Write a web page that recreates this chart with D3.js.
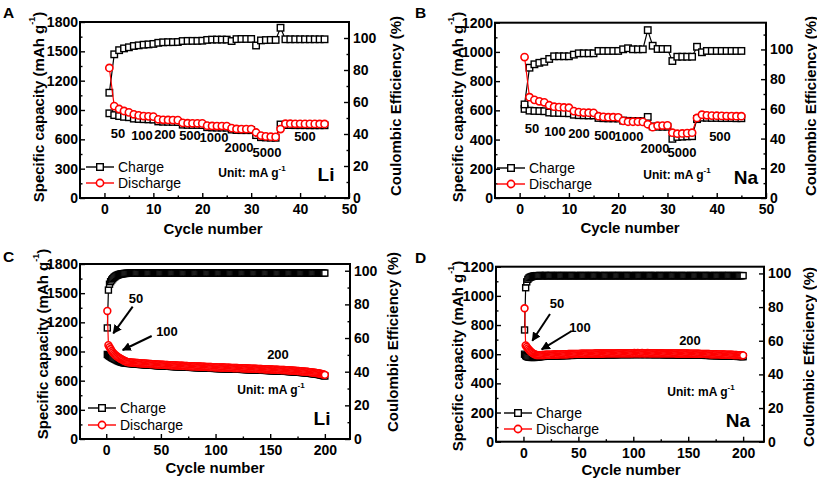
<!DOCTYPE html>
<html><head><meta charset="utf-8">
<script src="https://cdn.jsdelivr.net/npm/d3@7"></script>
<style>body{margin:0;background:#fff}svg{display:block}text{font-family:"Liberation Sans",Arial,sans-serif}</style>
</head><body><svg id="c" width="817" height="479"></svg>
<script>
// ---------- DATA ----------
// Panel A: Li, rate test (cycles 1..45)
const liRateCharge = [866,848,838,830,826,812,808,806,804,802,
783,780,779,778,777,750,748,747,747,746,
724,721,720,720,719,700,695,694,694,694,
643,622,619,617,616,752,746,746,745,745,
745,744,744,744,744];
const liRateDischarge = [1330,940,910,890,876,856,845,838,835,832,
805,800,798,797,796,768,765,764,764,763,
740,737,736,736,735,715,706,704,704,704,
670,638,630,627,625,705,760,760,759,759,
758,758,758,757,757];
const liRateCE = [65.8,89.8,92.4,93.5,94.2,95,95.4,95.8,96,96.3,
97,97.3,97.4,97.4,97.5,98.1,98.2,98.2,98.2,98.3,
98.8,99,99,99,99,98.1,99.3,99.4,99.4,99.4,
95.3,98.5,98.7,98.8,98.8,106.4,99.2,99.2,99.2,99.2,
99.2,99.2,99.2,99.2,99.2];
// Panel B: Na, rate test (cycles 1..45)
const naRateCharge = [610,598,596,595,594,585,583,582,581,580,
570,567,566,565,565,548,546,545,545,544,
530,528,527,527,526,555,490,488,488,488,
405,418,420,422,423,540,550,549,548,548,
547,547,547,546,546];
const naRateDischarge = [965,690,672,662,655,635,625,622,620,618,
595,588,585,584,583,560,555,553,553,552,
528,522,522,522,521,505,485,495,496,497,
447,440,442,444,447,548,570,566,564,563,
562,561,561,560,560];
const naRateCE = [63,87.7,90,91,91.7,93.6,95.4,95.4,95.4,95.4,
96.5,97.4,97.4,97.4,97.4,99,99,99,99,99,
100.1,100.8,100.1,100.1,100.1,113,102.5,100.3,100.3,100.3,
92.2,95.1,95.1,95.1,95.1,101.8,98.1,99,99,99,
99,99,99,99,99];
const rateLabelsLi = ["50","100","200","500","1000","2000","5000","500"];
const rateLabelsNa = ["50","100","200","500","1000","2000","5000","500"];

// Panel C: Li, cycling (cycles 1..200)
const liCycCharge = [870,860,852,845,838,832,826,820,814,808,
803,798,794,790,787,784,782,780,779,778,
777,776,775,774,773,772,771,770,769,768,
767,766,766,765,764,763,762,762,761,760,
759,758,758,757,756,755,754,754,753,752,
751,751,750,750,749,749,748,748,747,746,
746,745,745,744,744,743,743,742,741,741,
740,740,739,739,738,738,737,737,736,736,
735,735,734,734,733,733,732,732,731,731,
730,730,729,729,728,728,727,727,726,726,
725,725,725,724,724,723,723,723,722,722,
721,721,721,720,720,719,719,719,718,718,
717,717,717,716,716,715,715,714,714,713,
713,712,712,711,711,710,710,709,709,708,
708,708,707,707,706,706,705,705,704,704,
703,703,702,702,701,700,700,699,699,698,
698,697,697,696,696,695,694,693,693,692,
691,690,690,689,688,687,686,685,684,683,
682,681,680,679,678,676,675,673,672,670,
669,667,666,664,662,659,657,654,651,648];
const liCycDischarge = [1317,965,945,925,905,890,878,866,856,848,
840,833,826,820,814,808,802,797,793,790,
789,788,787,786,785,784,783,782,781,780,
779,778,778,777,776,775,774,774,773,772,
771,770,770,769,768,767,766,766,765,764,
763,763,762,762,761,761,760,760,759,758,
758,757,757,756,756,755,755,754,753,753,
752,752,751,751,750,750,749,749,748,748,
747,747,746,746,745,745,744,744,743,743,
742,742,741,741,740,740,739,739,738,738,
737,737,737,736,736,735,735,735,734,734,
733,733,733,732,732,731,731,731,730,730,
729,729,729,728,728,727,727,726,726,725,
725,724,724,723,723,722,722,721,721,720,
720,720,719,719,718,718,717,717,716,716,
715,715,714,714,713,712,712,711,711,710,
710,709,709,708,708,707,706,705,705,704,
703,702,702,701,700,699,698,697,696,695,
694,693,692,691,690,688,687,685,684,682,
681,679,678,676,674,671,669,666,663,660];
const liCycCE = [66,88.5,92,93.5,94.5,95.3,96,96.5,97,97.3,
97.6,97.8,98,98.1,98.2,98.3,98.4,98.4,98.5,98.5,
98.5,98.6,98.5,98.6,98.6,98.5,98.6,98.7,98.6,98.6,
98.5,98.6,98.6,98.7,98.6,98.6,98.5,98.6,98.6,98.6,
98.7,98.6,98.6,98.5,98.6,98.6,98.7,98.6,98.6,98.6,
98.5,98.6,98.6,98.7,98.6,98.6,98.6,98.5,98.6,98.6,
98.6,98.7,98.6,98.6,98.5,98.6,98.6,98.6,98.7,98.6,
98.6,98.6,98.5,98.6,98.6,98.7,98.6,98.6,98.6,98.6,
98.5,98.6,98.6,98.7,98.6,98.6,98.5,98.6,98.6,98.6,
98.7,98.6,98.6,98.5,98.6,98.6,98.7,98.6,98.6,98.6,
98.5,98.6,98.6,98.7,98.6,98.6,98.6,98.5,98.6,98.6,
98.6,98.7,98.6,98.6,98.5,98.6,98.6,98.6,98.7,98.6,
98.6,98.6,98.5,98.6,98.6,98.7,98.6,98.6,98.6,98.6,
98.5,98.6,98.6,98.7,98.6,98.6,98.5,98.6,98.6,98.6,
98.7,98.6,98.6,98.5,98.6,98.6,98.7,98.6,98.6,98.6,
98.5,98.6,98.6,98.7,98.6,98.6,98.6,98.5,98.6,98.6,
98.6,98.7,98.6,98.6,98.5,98.6,98.6,98.6,98.7,98.6,
98.6,98.6,98.5,98.6,98.6,98.7,98.6,98.6,98.6,98.6,
98.5,98.6,98.6,98.7,98.6,98.6,98.5,98.6,98.6,98.6,
98.7,98.6,98.6,98.5,98.6,98.6,98.7,98.6,98.6,98.6];
// Panel D: Na, cycling (cycles 1..200)
const naCycCharge = [600,590,585,582,580,579,578,578,578,578,
579,580,581,582,583,584,585,585,586,586,
587,587,587,588,588,588,589,589,589,589,
589,590,590,590,590,591,591,591,591,591,
592,592,592,592,592,593,593,593,593,593,
593,594,594,594,594,594,594,595,595,595,
595,595,595,595,596,596,596,596,596,596,
596,596,596,597,597,597,597,597,597,597,
597,597,597,597,597,598,598,598,598,598,
598,598,598,598,598,598,598,598,598,598,
599,598,598,599,598,598,598,599,598,598,
598,598,599,598,598,598,598,598,598,597,
598,598,598,598,598,598,597,597,597,597,
597,597,597,597,597,597,597,597,596,596,
596,596,596,596,596,596,596,596,596,596,
595,595,595,595,595,594,594,594,594,594,
593,593,593,593,593,592,592,592,592,591,
591,591,591,591,591,590,590,590,590,589,
589,589,589,588,588,588,588,587,587,587,
586,586,586,586,585,585,585,584,584,583];
const naCycDischarge = [915,660,650,640,630,622,615,609,604,600,
597,595,594,594,594,594,595,595,595,596,
596,596,597,597,597,597,598,598,598,598,
598,599,599,599,599,600,600,600,600,600,
601,601,601,601,601,602,602,602,602,602,
602,603,603,603,603,603,603,604,604,604,
604,604,604,604,605,605,605,605,605,605,
605,605,605,606,606,606,606,606,606,606,
606,606,606,606,606,607,607,607,607,607,
607,607,607,607,607,607,607,607,607,607,
608,607,607,608,607,607,607,608,607,607,
607,607,608,607,607,607,607,607,607,606,
607,607,607,607,607,607,606,606,606,606,
606,606,606,606,606,606,606,606,605,605,
605,605,605,605,605,605,605,605,605,605,
604,604,604,604,604,603,603,603,603,603,
602,602,602,602,602,601,601,601,601,600,
600,600,600,600,600,599,599,599,599,598,
598,598,598,597,597,597,597,596,596,596,
595,595,595,595,594,594,594,593,593,592];
const naCycCE = [66.4,91.5,95,96.5,97.3,97.7,98,98.2,98.4,98.5,
98.6,98.7,98.6,98.7,98.8,98.7,98.6,98.7,98.7,98.8,
98.7,98.6,98.7,98.7,98.8,98.7,98.7,98.6,98.7,98.7,
98.8,98.7,98.7,98.6,98.7,98.7,98.8,98.7,98.7,98.7,
98.6,98.7,98.7,98.8,98.7,98.7,98.7,98.6,98.7,98.7,
98.7,98.8,98.7,98.7,98.6,98.7,98.7,98.7,98.8,98.7,
98.7,98.7,98.6,98.7,98.7,98.8,98.7,98.7,98.7,98.7,
98.6,98.7,98.7,98.8,98.7,98.7,98.6,98.7,98.7,98.7,
98.8,98.7,98.7,98.6,98.7,98.7,98.8,98.7,98.7,98.7,
98.6,98.7,98.7,98.8,98.7,98.7,98.7,98.6,98.7,98.7,
98.7,98.8,98.7,98.7,98.6,98.7,98.7,98.7,98.8,98.7,
98.7,98.7,98.6,98.7,98.7,98.8,98.7,98.7,98.7,98.7,
98.6,98.7,98.7,98.8,98.7,98.7,98.6,98.7,98.7,98.7,
98.8,98.7,98.7,98.6,98.7,98.7,98.8,98.7,98.7,98.7,
98.6,98.7,98.7,98.8,98.7,98.7,98.7,98.6,98.7,98.7,
98.7,98.8,98.7,98.7,98.6,98.7,98.7,98.7,98.8,98.7,
98.7,98.7,98.6,98.7,98.7,98.8,98.7,98.7,98.7,98.7,
98.6,98.7,98.7,98.8,98.7,98.7,98.6,98.7,98.7,98.7,
98.8,98.7,98.7,98.6,98.7,98.7,98.8,98.7,98.7,98.7,
98.6,98.7,98.7,98.8,98.7,98.7,98.7,98.6,98.7,98.7];
const seriesNames = ["Charge","Discharge"];

// ---------- LAYOUT ----------
const svg = d3.select("#c");
const RED = "#ff0000";
const FONT = "'Liberation Sans',Arial,sans-serif";

const panels = [
 {letter:"A", lx:3, ly:17.5, x0:80, x1:349, y0:22, y1:198, xDom:[-5,50], xMaj:10, xMin:5, xMax:50,
  yL:[0,1800], yLMaj:300, yLMin:150, yR:[0,110], yRMax:100,
  charge:liRateCharge, discharge:liRateDischarge, ce:liRateCE, sq:6.5, r:3.6,
  ylt:[38,107], yrt:[395,106], xt:[213,228],
  leg:{x:86, y1:167, y2:183}, unit:[252,173], elem:"Li", elemPos:[326,174],
  rates:rateLabelsLi, ratePos:[[118,133],[142,135],[165,134],[190,135],[214,137],[239,147],[267,152],[305,136]]},
 {letter:"B", lx:415, ly:18, x0:495, x1:766, y0:22.7, y1:198, xDom:[-5,50], xMaj:10, xMin:5, xMax:50,
  yL:[0,1200], yLMaj:200, yLMin:100, yR:[0,118], yRMax:100,
  charge:naRateCharge, discharge:naRateDischarge, ce:naRateCE, sq:6.5, r:3.6,
  ylt:[457,107], yrt:[810,106], xt:[630,227],
  leg:{x:497, y1:168, y2:184}, unit:[677,175], elem:"Na", elemPos:[746,177],
  rates:rateLabelsNa, ratePos:[[532,128],[555,131],[579,133],[605,135],[629,136.5],[655,148],[682,152.5],[720,136.5]]},
 {letter:"C", lx:3, ly:261.5, x0:80, x1:350, y0:264, y1:439, xDom:[-24,223], xMaj:50, xMin:25, xMax:200,
  yL:[0,1800], yLMaj:300, yLMin:150, yR:[0,104], yRMax:100,
  charge:liCycCharge, discharge:liCycDischarge, ce:liCycCE, sq:6, r:3.4,
  ylt:[41.5,344], yrt:[392,342], xt:[215,467],
  leg:{x:88, y1:408, y2:425}, unit:[271,390], elem:"Li", elemPos:[322,418],
  rates:["50","100","200"], ratePos:[[136,298],[167,331],[278,354]],
  arrows:[[132.7,306.7,113.3,333.3],[151.7,336,122.7,350]]},
 {letter:"D", lx:415, ly:263, x0:496, x1:764, y0:266.7, y1:441.7, xDom:[-25,219], xMaj:50, xMin:25, xMax:200,
  yL:[0,1200], yLMaj:200, yLMin:100, yR:[0,104], yRMax:100,
  charge:naCycCharge, discharge:naCycDischarge, ce:naCycCE, sq:6, r:3.4,
  ylt:[457,356], yrt:[808,357], xt:[631,469],
  leg:{x:504, y1:413, y2:429}, unit:[701,392], elem:"Na", elemPos:[738,420],
  rates:["50","100","200"], ratePos:[[557,303],[580,327],[690,340]],
  arrows:[[550,314,532.3,340.7],[571.7,331,541.7,349.3]]}
];

// arrow marker
svg.append("defs").append("marker").attr("id","ah").attr("viewBox","0 0 10 10")
  .attr("refX",9).attr("refY",5).attr("markerWidth",4.5).attr("markerHeight",4.5)
  .attr("orient","auto").append("path").attr("d","M0,0L10,5L0,10z").attr("fill","#000");

function rng(a,b,s){const o=[];for(let v=a;v<=b+1e-9;v+=s)o.push(+v.toFixed(6));return o;}

panels.forEach(p=>{
  const g = svg.append("g");
  const x = d3.scaleLinear().domain(p.xDom).range([p.x0,p.x1]);
  const yL = d3.scaleLinear().domain(p.yL).range([p.y1,p.y0]);
  const yR = d3.scaleLinear().domain(p.yR).range([p.y1,p.y0]);

  const inside = (v,d)=> v>d[0]+1e-6 && v<d[1]-1e-6;
  const xMajV = rng(0,p.xMax,p.xMaj);
  const xMinV = rng(Math.ceil(p.xDom[0]/p.xMin)*p.xMin, p.xDom[1], p.xMin).filter(v=>inside(v,p.xDom)&&!xMajV.includes(v));
  const yLMajV = rng(p.yL[0],p.yL[1],p.yLMaj);
  const yLMinV = rng(p.yL[0],p.yL[1],p.yLMin).filter(v=>inside(v,p.yL)&&!yLMajV.includes(v));
  const yRMajV = rng(0,p.yRMax,20);
  const yRMinV = rng(0,p.yR[1],10).filter(v=>inside(v,p.yR)&&!yRMajV.includes(v));

  const styleAxis = a=>{
    a.select(".domain").remove();
    a.selectAll(".tick line").attr("stroke","#000").attr("stroke-width",1.4);
    a.selectAll(".tick text").attr("font-family",FONT).attr("font-weight","bold").attr("font-size",14).attr("fill","#000");
  };
  g.append("g").attr("transform",`translate(0,${p.y1})`)
    .call(d3.axisBottom(x).tickValues(xMajV).tickSizeInner(-5).tickSizeOuter(0).tickPadding(6).tickFormat(d3.format("d"))).call(styleAxis);
  g.append("g").attr("transform",`translate(0,${p.y1})`)
    .call(d3.axisBottom(x).tickValues(xMinV).tickSizeInner(-2.5).tickSizeOuter(0).tickFormat("")).call(styleAxis);
  g.append("g").attr("transform",`translate(${p.x0},0)`)
    .call(d3.axisLeft(yL).tickValues(yLMajV).tickSizeInner(-5).tickSizeOuter(0).tickPadding(2).tickFormat(d3.format("d"))).call(styleAxis);
  g.append("g").attr("transform",`translate(${p.x0},0)`)
    .call(d3.axisLeft(yL).tickValues(yLMinV).tickSizeInner(-2.5).tickSizeOuter(0).tickFormat("")).call(styleAxis);
  g.append("g").attr("transform",`translate(${p.x1},0)`)
    .call(d3.axisRight(yR).tickValues(yRMajV).tickSizeInner(-5).tickSizeOuter(0).tickPadding(4).tickFormat(d3.format("d"))).call(styleAxis);
  g.append("g").attr("transform",`translate(${p.x1},0)`)
    .call(d3.axisRight(yR).tickValues(yRMinV).tickSizeInner(-2.5).tickSizeOuter(0).tickFormat("")).call(styleAxis);

  // series
  const pts = (arr,ys)=>arr.map((v,i)=>[x(i+1),ys(v)]);
  const line = d3.line();
  const drawSq = (data,ys)=>{
    g.append("path").attr("d",line(pts(data,ys))).attr("fill","none").attr("stroke","#000").attr("stroke-width",1.2);
    g.append("g").selectAll("rect").data(data).join("rect")
      .attr("x",(d,i)=>x(i+1)-p.sq/2).attr("y",d=>ys(d)-p.sq/2)
      .attr("width",p.sq).attr("height",p.sq).attr("fill","#fff").attr("stroke","#000").attr("stroke-width",1.4);
  };
  drawSq(p.charge,yL);
  drawSq(p.ce,yR);
  g.append("path").attr("d",line(pts(p.discharge,yL))).attr("fill","none").attr("stroke",RED).attr("stroke-width",1.2);
  g.append("g").selectAll("circle").data(p.discharge).join("circle")
    .attr("cx",(d,i)=>x(i+1)).attr("cy",d=>yL(d)).attr("r",p.r)
    .attr("fill","#fff").attr("stroke",RED).attr("stroke-width",1.6);

  // frame
  g.append("rect").attr("x",p.x0).attr("y",p.y0).attr("width",p.x1-p.x0).attr("height",p.y1-p.y0)
    .attr("fill","none").attr("stroke","#000").attr("stroke-width",2);

  // titles
  const lt = g.append("text").attr("transform",`translate(${p.ylt[0]},${p.ylt[1]}) rotate(-90)`)
    .attr("text-anchor","middle").attr("dominant-baseline","central")
    .attr("font-family",FONT).attr("font-weight","bold").attr("font-size",15);
  lt.append("tspan").text("Specific capacity (mAh g");
  lt.append("tspan").attr("font-size",9).attr("dy",-6).text("-1");
  lt.append("tspan").attr("dy",6).text(")");
  g.append("text").attr("transform",`translate(${p.yrt[0]},${p.yrt[1]}) rotate(-90)`)
    .attr("text-anchor","middle").attr("dominant-baseline","central")
    .attr("font-family",FONT).attr("font-weight","bold").attr("font-size",15).text("Coulombic Efficiency (%)");
  g.append("text").attr("x",p.xt[0]).attr("y",p.xt[1]).attr("text-anchor","middle").attr("dominant-baseline","central")
    .attr("font-family",FONT).attr("font-weight","bold").attr("font-size",15).text("Cycle number");

  // panel letter
  g.append("text").attr("x",p.lx).attr("y",p.ly).attr("font-family",FONT).attr("font-weight","bold")
    .attr("font-size",15.5).text(p.letter);

  // legend
  const L = p.leg;
  [[L.y1,"#000","sq",seriesNames[0]],[L.y2,RED,"ci",seriesNames[1]]].forEach(([yy,col,m,name])=>{
    g.append("line").attr("x1",L.x).attr("x2",L.x+28).attr("y1",yy).attr("y2",yy).attr("stroke",col).attr("stroke-width",1.4);
    if(m==="sq") g.append("rect").attr("x",L.x+14-3.3).attr("y",yy-3.3).attr("width",6.6).attr("height",6.6)
      .attr("fill","#fff").attr("stroke",col).attr("stroke-width",1.4);
    else g.append("circle").attr("cx",L.x+14).attr("cy",yy).attr("r",3.6).attr("fill","#fff").attr("stroke",col).attr("stroke-width",1.6);
    g.append("text").attr("x",L.x+32).attr("y",yy).attr("dominant-baseline","central")
      .attr("font-family",FONT).attr("font-size",14).text(name);
  });

  // unit + element
  const ut = g.append("text").attr("x",p.unit[0]).attr("y",p.unit[1]).attr("text-anchor","middle").attr("dominant-baseline","central")
    .attr("font-family",FONT).attr("font-weight","bold").attr("font-size",12);
  ut.append("tspan").text("Unit: mA g");
  ut.append("tspan").attr("font-size",8).attr("dy",-5).text("-1");
  g.append("text").attr("x",p.elemPos[0]).attr("y",p.elemPos[1]).attr("text-anchor","middle").attr("dominant-baseline","central")
    .attr("font-family",FONT).attr("font-weight","bold").attr("font-size",19).text(p.elem);

  // rate labels
  p.rates.forEach((t,i)=>{
    g.append("text").attr("x",p.ratePos[i][0]).attr("y",p.ratePos[i][1]).attr("text-anchor","middle").attr("dominant-baseline","central")
      .attr("font-family",FONT).attr("font-weight","bold").attr("font-size",13).text(t);
  });
  (p.arrows||[]).forEach(a=>{
    g.append("line").attr("x1",a[0]).attr("y1",a[1]).attr("x2",a[2]).attr("y2",a[3])
      .attr("stroke","#000").attr("stroke-width",2).attr("marker-end","url(#ah)");
  });
});
</script></body></html>
